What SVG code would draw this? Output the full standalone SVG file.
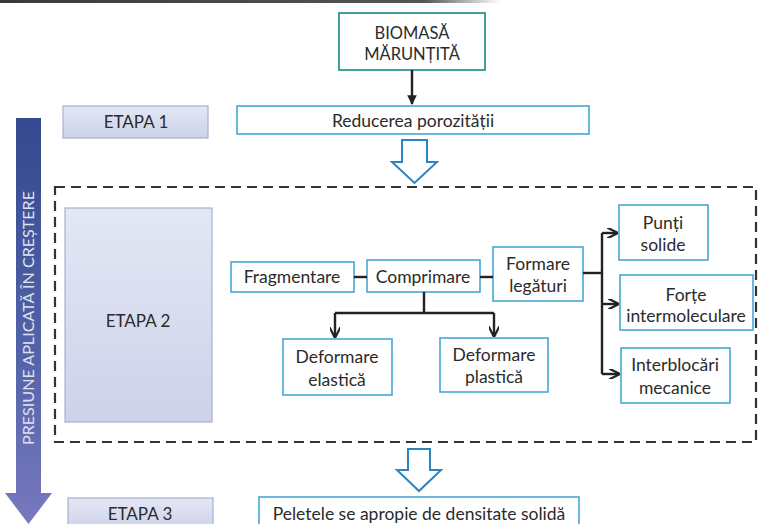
<svg xmlns="http://www.w3.org/2000/svg" width="760" height="524" viewBox="0 0 760 524">
<defs>
  <linearGradient id="etapaG" x1="0" y1="0" x2="0" y2="1">
    <stop offset="0" stop-color="#e4e7f4"/>
    <stop offset="1" stop-color="#cdd2ea"/>
  </linearGradient>
  <linearGradient id="bigArrow" x1="0" y1="0" x2="0" y2="1">
    <stop offset="0" stop-color="#34498f"/>
    <stop offset="0.6" stop-color="#5564a8"/>
    <stop offset="1" stop-color="#7878c0"/>
  </linearGradient>
  <linearGradient id="topBar" x1="0" y1="0" x2="1" y2="0">
    <stop offset="0" stop-color="#3a3a3a"/>
    <stop offset="0.85" stop-color="#555"/>
    <stop offset="1" stop-color="#555" stop-opacity="0"/>
  </linearGradient>
  <marker id="ah" viewBox="0 0 10 10" refX="9" refY="5" markerWidth="4.5" markerHeight="4.5" orient="auto" markerUnits="strokeWidth">
    <path d="M0,0 L10,5 L0,10" fill="none" stroke="#222" stroke-width="2"/>
  </marker>
  <marker id="ahB" viewBox="0 0 10 10" refX="9" refY="5" markerWidth="4" markerHeight="4" orient="auto" markerUnits="strokeWidth">
    <path d="M0,0 L10,5 L0,10 Z" fill="#222"/>
  </marker>
</defs>
<style>
  text { font-family: Lato, "Open Sans", "Liberation Sans", sans-serif; fill: #2b2b2b; font-size: 17.5px; text-anchor: middle; }
  .box { fill: #ffffff; stroke: #46a7d6; stroke-width: 1.6; }
  .teal { fill: #ffffff; stroke: #2f978c; stroke-width: 1.8; }
  .etapa { fill: url(#etapaG); stroke: #a9afd2; stroke-width: 1.2; }
  .et { font-size: 17px; }
  .conn { fill: none; stroke: #222; stroke-width: 2.4; }
  .hollow { fill: #ffffff; stroke: #2c84c0; stroke-width: 2; stroke-linejoin: miter; }
  .dash { fill: none; stroke: #333; stroke-width: 2.2; stroke-dasharray: 10 6; }
</style>

<rect x="0" y="0" width="500" height="3" fill="url(#topBar)"/>

<g id="pressure-arrow">
  <path d="M16,118 L41,118 L41,493 L52,493 L28.5,524 L5,493 L16,493 Z" fill="url(#bigArrow)"/>
  <text transform="translate(34,318) rotate(-90)" style="fill:#dfe2f3;font-size:15px" textLength="254" lengthAdjust="spacingAndGlyphs">PRESIUNE APLICATĂ ÎN CREȘTERE</text>
</g>

<g id="stage2-frame">
  <rect class="dash" x="55" y="187" width="701" height="255"/>
</g>

<g id="etapa1">
  <rect class="etapa" x="63" y="106" width="145" height="32"/>
  <text class="et" x="136" y="128">ETAPA 1</text>
</g>
<g id="etapa2">
  <rect class="etapa" x="65" y="208" width="147" height="214"/>
  <text class="et" x="138" y="327">ETAPA 2</text>
</g>
<g id="etapa3">
  <rect class="etapa" x="68" y="498" width="145" height="32"/>
  <text class="et" x="140" y="520">ETAPA 3</text>
</g>

<g id="biomasa">
  <rect class="teal" x="339" y="13" width="146" height="57"/>
  <text x="412" y="39" style="font-size:16.5px">BIOMASĂ</text>
  <text x="412" y="60" style="font-size:16.5px">MĂRUNȚITĂ</text>
</g>

<g id="reducerea">
  <rect class="box" x="237" y="106" width="352" height="28"/>
  <text x="413" y="127">Reducerea porozității</text>
</g>

<g id="fragmentare">
  <rect class="box" x="231" y="262" width="123" height="30"/>
  <text x="292" y="283">Fragmentare</text>
</g>
<g id="comprimare">
  <rect class="box" x="367" y="260" width="113" height="32"/>
  <text x="423" y="283">Comprimare</text>
</g>
<g id="formare">
  <rect class="box" x="493" y="247" width="90" height="54"/>
  <text x="538" y="270">Formare</text>
  <text x="538" y="292">legături</text>
</g>
<g id="elastica">
  <rect class="box" x="283" y="339" width="109" height="56"/>
  <text x="337" y="363">Deformare</text>
  <text x="337" y="386">elastică</text>
</g>
<g id="plastica">
  <rect class="box" x="440" y="338" width="108" height="54"/>
  <text x="494" y="361">Deformare</text>
  <text x="494" y="383">plastică</text>
</g>
<g id="punti">
  <rect class="box" x="619" y="205" width="89" height="55"/>
  <text x="663" y="229">Punți</text>
  <text x="663" y="251">solide</text>
</g>
<g id="forte">
  <rect class="box" x="620" y="275" width="133" height="55"/>
  <text x="686" y="301">Forțe</text>
  <text x="686" y="322">intermoleculare</text>
</g>
<g id="interblocari">
  <rect class="box" x="621" y="348" width="109" height="55"/>
  <text x="675" y="371">Interblocări</text>
  <text x="675" y="394">mecanice</text>
</g>

<g id="peletele">
  <rect class="box" x="259" y="497" width="320" height="34"/>
  <text x="419" y="520">Peletele se apropie de densitate solidă</text>
</g>

<g id="connectors">
  <line class="conn" x1="412" y1="70" x2="412" y2="104" marker-end="url(#ahB)"/>
  <path class="hollow" d="M402,140 L427,140 L427,162 L437,162 L414.5,183 L392,162 L402,162 Z"/>
  <path class="hollow" d="M408,449 L430,449 L430,470 L441,470 L419,491 L397,470 L408,470 Z"/>
  <line class="conn" x1="354" y1="277" x2="367" y2="277"/>
  <line class="conn" x1="480" y1="277" x2="493" y2="277"/>
  <path class="conn" d="M424,292 L424,313"/>
  <path class="conn" d="M335,313 L494,313"/>
  <line class="conn" x1="335" y1="313" x2="335" y2="337" marker-end="url(#ah)"/>
  <line class="conn" x1="494" y1="313" x2="494" y2="336" marker-end="url(#ah)"/>
  <line class="conn" x1="583" y1="273" x2="602" y2="273"/>
  <path class="conn" d="M602,233 L602,374"/>
  <line class="conn" x1="602" y1="233" x2="617" y2="233" marker-end="url(#ah)"/>
  <line class="conn" x1="602" y1="304" x2="618" y2="304" marker-end="url(#ah)"/>
  <line class="conn" x1="602" y1="374" x2="619" y2="374" marker-end="url(#ah)"/>
</g>
</svg>
